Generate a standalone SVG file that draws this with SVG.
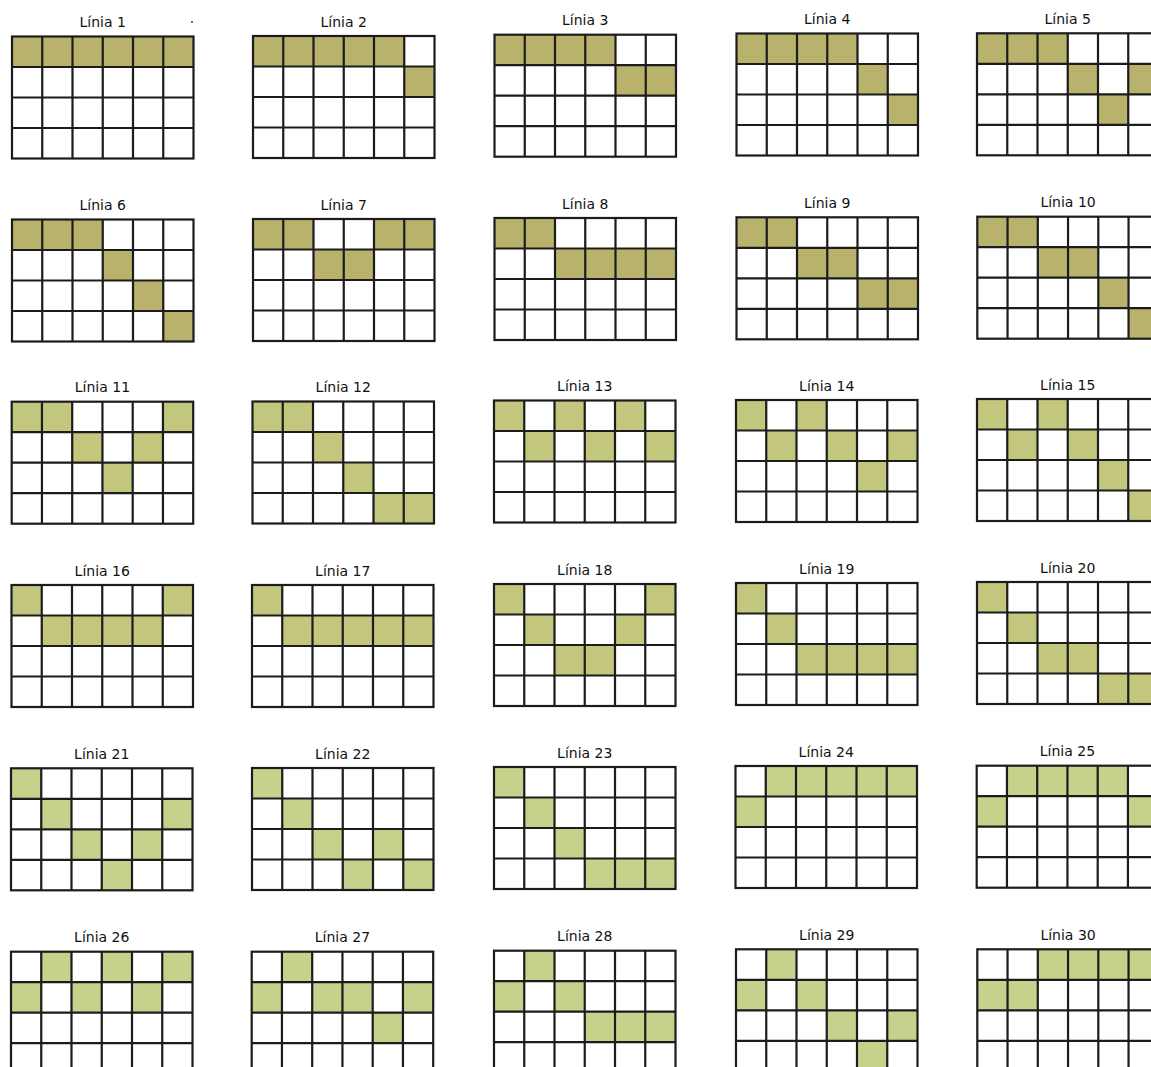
<svg xmlns="http://www.w3.org/2000/svg" xmlns:xlink="http://www.w3.org/1999/xlink" width="1151" height="1067" viewBox="0 0 1151 1067">
<style>
.t{font-family:"DejaVu Sans",Verdana,sans-serif;font-size:14px;fill:#111;text-anchor:middle}
.a rect.c{fill:#b8b26c}
.b rect.c{fill:#c2c77d}
.d rect.c{fill:#c8d18c}
.g{fill:none;stroke:#1c1c1c;stroke-width:2.2}
.bg{fill:#fff}
</style>
<defs>
<g id="grid">
<rect class="g" x="0" y="0" width="181.5" height="122"/>
<path class="g" d="M30.25 0V122M60.5 0V122M90.75 0V122M121 0V122M151.25 0V122M0 30.5H181.5M0 61H181.5M0 91.5H181.5"/>
</g>
</defs>
<rect width="1151" height="1067" fill="#fff"/>
<circle cx="192" cy="22" r="1" fill="#333"/>

<g id="linia1" class="a" transform="translate(12,36.5)"><text class="t" x="90.75" y="-9.5">Línia 1</text>
<rect class="c" x="0" y="0" width="181.5" height="30.5"/><use xlink:href="#grid"/></g>
<g id="linia2" class="a" transform="translate(253,36)"><text class="t" x="90.75" y="-9.5">Línia 2</text>
<rect class="c" x="0" y="0" width="151.25" height="30.5"/><rect class="c" x="151.25" y="30.5" width="30.25" height="30.5"/><use xlink:href="#grid"/></g>
<g id="linia3" class="a" transform="translate(494.5,34.7)"><text class="t" x="90.75" y="-9.5">Línia 3</text>
<rect class="c" x="0" y="0" width="121" height="30.5"/><rect class="c" x="121" y="30.5" width="60.5" height="30.5"/><use xlink:href="#grid"/></g>
<g id="linia4" class="a" transform="translate(736.5,33.5)"><text class="t" x="90.75" y="-9.5">Línia 4</text>
<rect class="c" x="0" y="0" width="121" height="30.5"/><rect class="c" x="121" y="30.5" width="30.25" height="30.5"/><rect class="c" x="151.25" y="61" width="30.25" height="30.5"/><use xlink:href="#grid"/></g>
<g id="linia5" class="a" transform="translate(977,33.3)"><text class="t" x="90.75" y="-9.5">Línia 5</text>
<rect class="c" x="0" y="0" width="90.75" height="30.5"/><rect class="c" x="90.75" y="30.5" width="30.25" height="30.5"/><rect class="c" x="121" y="61" width="30.25" height="30.5"/><rect class="c" x="151.25" y="30.5" width="30.25" height="30.5"/><use xlink:href="#grid"/></g>

<g id="linia6" class="a" transform="translate(12,219.5)"><text class="t" x="90.75" y="-9.5">Línia 6</text>
<rect class="c" x="0" y="0" width="90.75" height="30.5"/><rect class="c" x="90.75" y="30.5" width="30.25" height="30.5"/><rect class="c" x="121" y="61" width="30.25" height="30.5"/><rect class="c" x="151.25" y="91.5" width="30.25" height="30.5"/><use xlink:href="#grid"/></g>
<g id="linia7" class="a" transform="translate(253,219)"><text class="t" x="90.75" y="-9.5">Línia 7</text>
<rect class="c" x="0" y="0" width="60.5" height="30.5"/><rect class="c" x="60.5" y="30.5" width="60.5" height="30.5"/><rect class="c" x="121" y="0" width="60.5" height="30.5"/><use xlink:href="#grid"/></g>
<g id="linia8" class="a" transform="translate(494.5,218)"><text class="t" x="90.75" y="-9.5">Línia 8</text>
<rect class="c" x="0" y="0" width="60.5" height="30.5"/><rect class="c" x="60.5" y="30.5" width="121" height="30.5"/><use xlink:href="#grid"/></g>
<g id="linia9" class="a" transform="translate(736.5,217.3)"><text class="t" x="90.75" y="-9.5">Línia 9</text>
<rect class="c" x="0" y="0" width="60.5" height="30.5"/><rect class="c" x="60.5" y="30.5" width="60.5" height="30.5"/><rect class="c" x="121" y="61" width="60.5" height="30.5"/><use xlink:href="#grid"/></g>
<g id="linia10" class="a" transform="translate(977.3,216.7)"><text class="t" x="90.75" y="-9.5">Línia 10</text>
<rect class="c" x="0" y="0" width="60.5" height="30.5"/><rect class="c" x="60.5" y="30.5" width="60.5" height="30.5"/><rect class="c" x="121" y="61" width="30.25" height="30.5"/><rect class="c" x="151.25" y="91.5" width="30.25" height="30.5"/><use xlink:href="#grid"/></g>

<g id="linia11" class="b" transform="translate(11.7,401.7)"><text class="t" x="90.75" y="-9.5">Línia 11</text>
<rect class="c" x="0" y="0" width="60.5" height="30.5"/><rect class="c" x="60.5" y="30.5" width="30.25" height="30.5"/><rect class="c" x="90.75" y="61" width="30.25" height="30.5"/><rect class="c" x="121" y="30.5" width="30.25" height="30.5"/><rect class="c" x="151.25" y="0" width="30.25" height="30.5"/><use xlink:href="#grid"/></g>
<g id="linia12" class="b" transform="translate(252.5,401.5)"><text class="t" x="90.75" y="-9.5">Línia 12</text>
<rect class="c" x="0" y="0" width="60.5" height="30.5"/><rect class="c" x="60.5" y="30.5" width="30.25" height="30.5"/><rect class="c" x="90.75" y="61" width="30.25" height="30.5"/><rect class="c" x="121" y="91.5" width="60.5" height="30.5"/><use xlink:href="#grid"/></g>
<g id="linia13" class="b" transform="translate(494,400.5)"><text class="t" x="90.75" y="-9.5">Línia 13</text>
<rect class="c" x="0" y="0" width="30.25" height="30.5"/><rect class="c" x="30.25" y="30.5" width="30.25" height="30.5"/><rect class="c" x="60.5" y="0" width="30.25" height="30.5"/><rect class="c" x="90.75" y="30.5" width="30.25" height="30.5"/><rect class="c" x="121" y="0" width="30.25" height="30.5"/><rect class="c" x="151.25" y="30.5" width="30.25" height="30.5"/><use xlink:href="#grid"/></g>
<g id="linia14" class="b" transform="translate(736,400)"><text class="t" x="90.75" y="-9.5">Línia 14</text>
<rect class="c" x="0" y="0" width="30.25" height="30.5"/><rect class="c" x="30.25" y="30.5" width="30.25" height="30.5"/><rect class="c" x="60.5" y="0" width="30.25" height="30.5"/><rect class="c" x="90.75" y="30.5" width="30.25" height="30.5"/><rect class="c" x="121" y="61" width="30.25" height="30.5"/><rect class="c" x="151.25" y="30.5" width="30.25" height="30.5"/><use xlink:href="#grid"/></g>
<g id="linia15" class="b" transform="translate(977,399)"><text class="t" x="90.75" y="-9.5">Línia 15</text>
<rect class="c" x="0" y="0" width="30.25" height="30.5"/><rect class="c" x="30.25" y="30.5" width="30.25" height="30.5"/><rect class="c" x="60.5" y="0" width="30.25" height="30.5"/><rect class="c" x="90.75" y="30.5" width="30.25" height="30.5"/><rect class="c" x="121" y="61" width="30.25" height="30.5"/><rect class="c" x="151.25" y="91.5" width="30.25" height="30.5"/><use xlink:href="#grid"/></g>

<g id="linia16" class="b" transform="translate(11.5,585)"><text class="t" x="90.75" y="-9.5">Línia 16</text>
<rect class="c" x="0" y="0" width="30.25" height="30.5"/><rect class="c" x="30.25" y="30.5" width="121" height="30.5"/><rect class="c" x="151.25" y="0" width="30.25" height="30.5"/><use xlink:href="#grid"/></g>
<g id="linia17" class="b" transform="translate(252,585)"><text class="t" x="90.75" y="-9.5">Línia 17</text>
<rect class="c" x="0" y="0" width="30.25" height="30.5"/><rect class="c" x="30.25" y="30.5" width="151.25" height="30.5"/><use xlink:href="#grid"/></g>
<g id="linia18" class="b" transform="translate(494,584)"><text class="t" x="90.75" y="-9.5">Línia 18</text>
<rect class="c" x="0" y="0" width="30.25" height="30.5"/><rect class="c" x="30.25" y="30.5" width="30.25" height="30.5"/><rect class="c" x="60.5" y="61" width="60.5" height="30.5"/><rect class="c" x="121" y="30.5" width="30.25" height="30.5"/><rect class="c" x="151.25" y="0" width="30.25" height="30.5"/><use xlink:href="#grid"/></g>
<g id="linia19" class="b" transform="translate(736,583)"><text class="t" x="90.75" y="-9.5">Línia 19</text>
<rect class="c" x="0" y="0" width="30.25" height="30.5"/><rect class="c" x="30.25" y="30.5" width="30.25" height="30.5"/><rect class="c" x="60.5" y="61" width="121" height="30.5"/><use xlink:href="#grid"/></g>
<g id="linia20" class="b" transform="translate(977,582)"><text class="t" x="90.75" y="-9.5">Línia 20</text>
<rect class="c" x="0" y="0" width="30.25" height="30.5"/><rect class="c" x="30.25" y="30.5" width="30.25" height="30.5"/><rect class="c" x="60.5" y="61" width="60.5" height="30.5"/><rect class="c" x="121" y="91.5" width="60.5" height="30.5"/><use xlink:href="#grid"/></g>

<g id="linia21" class="d" transform="translate(11,768.3)"><text class="t" x="90.75" y="-9.5">Línia 21</text>
<rect class="c" x="0" y="0" width="30.25" height="30.5"/><rect class="c" x="30.25" y="30.5" width="30.25" height="30.5"/><rect class="c" x="60.5" y="61" width="30.25" height="30.5"/><rect class="c" x="90.75" y="91.5" width="30.25" height="30.5"/><rect class="c" x="121" y="61" width="30.25" height="30.5"/><rect class="c" x="151.25" y="30.5" width="30.25" height="30.5"/><use xlink:href="#grid"/></g>
<g id="linia22" class="d" transform="translate(252,768)"><text class="t" x="90.75" y="-9.5">Línia 22</text>
<rect class="c" x="0" y="0" width="30.25" height="30.5"/><rect class="c" x="30.25" y="30.5" width="30.25" height="30.5"/><rect class="c" x="60.5" y="61" width="30.25" height="30.5"/><rect class="c" x="90.75" y="91.5" width="30.25" height="30.5"/><rect class="c" x="121" y="61" width="30.25" height="30.5"/><rect class="c" x="151.25" y="91.5" width="30.25" height="30.5"/><use xlink:href="#grid"/></g>
<g id="linia23" class="d" transform="translate(494,767)"><text class="t" x="90.75" y="-9.5">Línia 23</text>
<rect class="c" x="0" y="0" width="30.25" height="30.5"/><rect class="c" x="30.25" y="30.5" width="30.25" height="30.5"/><rect class="c" x="60.5" y="61" width="30.25" height="30.5"/><rect class="c" x="90.75" y="91.5" width="90.75" height="30.5"/><use xlink:href="#grid"/></g>
<g id="linia24" class="d" transform="translate(735.5,766)"><text class="t" x="90.75" y="-9.5">Línia 24</text>
<rect class="c" x="0" y="30.5" width="30.25" height="30.5"/><rect class="c" x="30.25" y="0" width="151.25" height="30.5"/><use xlink:href="#grid"/></g>
<g id="linia25" class="d" transform="translate(976.7,765.7)"><text class="t" x="90.75" y="-9.5">Línia 25</text>
<rect class="c" x="0" y="30.5" width="30.25" height="30.5"/><rect class="c" x="30.25" y="0" width="121" height="30.5"/><rect class="c" x="151.25" y="30.5" width="30.25" height="30.5"/><use xlink:href="#grid"/></g>

<g id="linia26" class="d" transform="translate(11,951.7)"><text class="t" x="90.75" y="-9.5">Línia 26</text>
<rect class="c" x="0" y="30.5" width="30.25" height="30.5"/><rect class="c" x="30.25" y="0" width="30.25" height="30.5"/><rect class="c" x="60.5" y="30.5" width="30.25" height="30.5"/><rect class="c" x="90.75" y="0" width="30.25" height="30.5"/><rect class="c" x="121" y="30.5" width="30.25" height="30.5"/><rect class="c" x="151.25" y="0" width="30.25" height="30.5"/><use xlink:href="#grid"/></g>
<g id="linia27" class="d" transform="translate(251.7,951.7)"><text class="t" x="90.75" y="-9.5">Línia 27</text>
<rect class="c" x="0" y="30.5" width="30.25" height="30.5"/><rect class="c" x="30.25" y="0" width="30.25" height="30.5"/><rect class="c" x="60.5" y="30.5" width="60.5" height="30.5"/><rect class="c" x="121" y="61" width="30.25" height="30.5"/><rect class="c" x="151.25" y="30.5" width="30.25" height="30.5"/><use xlink:href="#grid"/></g>
<g id="linia28" class="d" transform="translate(494,950.7)"><text class="t" x="90.75" y="-9.5">Línia 28</text>
<rect class="c" x="0" y="30.5" width="30.25" height="30.5"/><rect class="c" x="30.25" y="0" width="30.25" height="30.5"/><rect class="c" x="60.5" y="30.5" width="30.25" height="30.5"/><rect class="c" x="90.75" y="61" width="90.75" height="30.5"/><use xlink:href="#grid"/></g>
<g id="linia29" class="d" transform="translate(736,949.3)"><text class="t" x="90.75" y="-9.5">Línia 29</text>
<rect class="c" x="0" y="30.5" width="30.25" height="30.5"/><rect class="c" x="30.25" y="0" width="30.25" height="30.5"/><rect class="c" x="60.5" y="30.5" width="30.25" height="30.5"/><rect class="c" x="90.75" y="61" width="30.25" height="30.5"/><rect class="c" x="121" y="91.5" width="30.25" height="30.5"/><rect class="c" x="151.25" y="61" width="30.25" height="30.5"/><use xlink:href="#grid"/></g>
<g id="linia30" class="d" transform="translate(977.3,949.3)"><text class="t" x="90.75" y="-9.5">Línia 30</text>
<rect class="c" x="0" y="30.5" width="60.5" height="30.5"/><rect class="c" x="60.5" y="0" width="121" height="30.5"/><use xlink:href="#grid"/></g>
</svg>
